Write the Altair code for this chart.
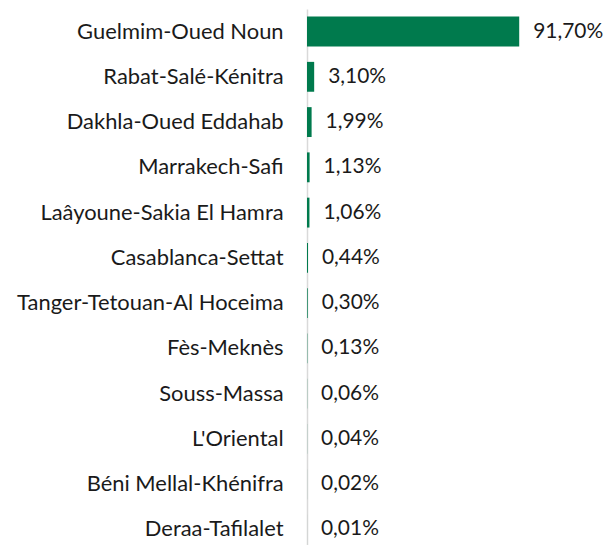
import altair as alt
import pandas as pd

regions = [
    "Guelmim-Oued Noun", "Rabat-Salé-Kénitra", "Dakhla-Oued Eddahab",
    "Marrakech-Safi", "Laâyoune-Sakia El Hamra", "Casablanca-Settat",
    "Tanger-Tetouan-Al Hoceima", "Fès-Meknès", "Souss-Massa",
    "L'Oriental", "Béni Mellal-Khénifra", "Deraa-Tafilalet",
]
shares = [91.70, 3.10, 1.99, 1.13, 1.06, 0.44, 0.30, 0.13, 0.06, 0.04, 0.02, 0.01]

df = pd.DataFrame({
    "region": regions,
    "share": shares,
    "label": [f"{v:.2f}".replace(".", ",") + "%" for v in shares],
})

FONT = "Lato"
GREEN = "#007A4D"

base = alt.Chart(df).encode(
    y=alt.Y("region:N", sort=regions,
            scale=alt.Scale(paddingInner=0.34, paddingOuter=0.17),
            axis=alt.Axis(title=None, ticks=False, labelPadding=24, labelLimit=400,
                          labelFont=FONT, labelFontSize=22, labelColor="#1a1a1a",
                          domainColor="#d9d9d9", domainWidth=1.5)),
    x=alt.X("share:Q", scale=alt.Scale(domain=[0, 129.2], nice=False),
            axis=None),
)

bars = base.mark_bar(color=GREEN)
text = base.mark_text(align="left", baseline="middle", dx=14,
                      font=FONT, fontSize=21, color="#1a1a1a").encode(text="label:N")

chart = (bars + text).properties(
    width=300, height=545,
    padding={"left": 300, "top": 0, "right": 0, "bottom": 0},
    autosize=alt.AutoSizeParams(type="none"),
).configure_view(stroke=None)

chart.save("out.html", embed_options={"renderer": "svg", "actions": False})
